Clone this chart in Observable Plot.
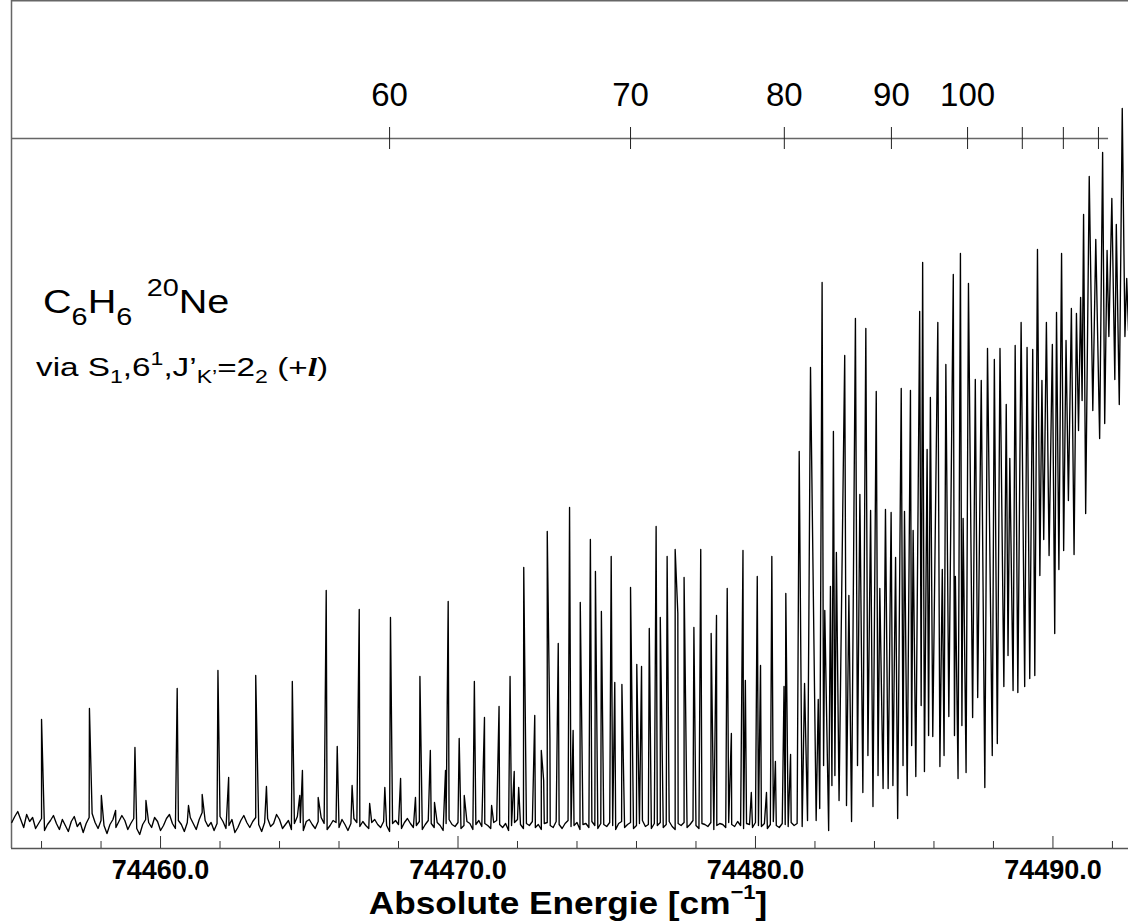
<!DOCTYPE html>
<html>
<head>
<meta charset="utf-8">
<script src="https://cdn.jsdelivr.net/npm/d3@7"></script>
<script src="https://cdn.jsdelivr.net/npm/@observablehq/plot@0.6"></script>
<style>
  html, body { margin: 0; padding: 0; background: #fff; }
  #chart svg { display: block; }
</style>
</head>
<body>
<div id="chart"></div>
<script>
// ---------- data ----------
const energyRange = [74454.99, 74492.54];   // cm^-1
const intensityRange = [-23, 825];          // arb. units

// bottom axis ticks
const majorTicks = [74460, 74470, 74480, 74490];
const minorTicks = [74456, 74458, 74462, 74464, 74466, 74468, 74472, 74474, 74476, 74478,
                    74482, 74484, 74486, 74488, 74492];

// top axis (J assignment) ticks
const jTickEnergy = [74467.70, 74475.80, 74480.97, 74484.57, 74487.13, 74488.97, 74490.35, 74491.53];
const jTickLabel  = ["60", "70", "80", "90", "100", "", "", ""];
const jAxisLevel = 687;
const jAxisEnd = 74491.87;

// line maxima
const peakEnergy = [
74456.00, 74457.61, 74458.01, 74458.49, 74459.14, 74459.51, 74460.56, 74460.94, 74461.40, 74461.93,
74462.29, 74463.20, 74463.56, 74464.43, 74464.68, 74464.77, 74465.30, 74465.57, 74465.94, 74466.44,
74466.68, 74467.03, 74467.54, 74467.73, 74468.07, 74468.57, 74468.72, 74469.07, 74469.21, 74469.58,
74469.67, 74470.04, 74470.21, 74470.55, 74470.89, 74471.13, 74471.38, 74471.75, 74471.89, 74472.04,
74472.21, 74472.58, 74472.80, 74472.88, 74473.00, 74473.09, 74473.37, 74473.75, 74473.87, 74474.11,
74474.45, 74474.62, 74474.82, 74475.15, 74475.27, 74475.51, 74475.80, 74476.01, 74476.17, 74476.43,
74476.66, 74476.80, 74477.03, 74477.30, 74477.39, 74477.60, 74477.93, 74478.16, 74478.51, 74478.69,
74479.05, 74479.19, 74479.58, 74479.66, 74479.86, 74480.06, 74480.17, 74480.37, 74480.55, 74480.67,
74480.96, 74481.02, 74481.18, 74481.47, 74481.65, 74481.85, 74482.11, 74482.24, 74482.33, 74482.52,
74482.62, 74482.72, 74483.00, 74483.14, 74483.36, 74483.51, 74483.71, 74483.87, 74484.06, 74484.18,
74484.37, 74484.56, 74484.71, 74484.90, 74485.01, 74485.21, 74485.30, 74485.52, 74485.62, 74485.77,
74485.88, 74486.13, 74486.28, 74486.40, 74486.65, 74486.72, 74486.89, 74486.98, 74487.16, 74487.39,
74487.59, 74487.80, 74488.03, 74488.22, 74488.43, 74488.55, 74488.73, 74488.93, 74489.13, 74489.32,
74489.48, 74489.63, 74489.78, 74489.98, 74490.12, 74490.29, 74490.44, 74490.62, 74490.79, 74490.93,
74491.03, 74491.22, 74491.44, 74491.67, 74491.82, 74491.98, 74492.13, 74492.33, 74492.48
];
const peakIntensity = [
106, 117, 30, 15, 78, 25, 137, 20, 31, 155,
48, 150, 39, 144, 30, 55, 28, 235, 79, 40,
216, 22, 38, 208, 47, 28, 149, 75, 23, 55,
224, 87, 30, 144, 108, 20, 119, 149, 54, 38,
258, 110, 75, 45, 294, 87, 182, 318, 95, 223,
286, 254, 214, 269, 143, 141, 238, 161, 159, 197,
299, 208, 269, 276, 212, 248, 198, 276, 192, 210,
237, 92, 275, 145, 33, 249, 160, 33, 269, 64,
139, 232, 71, 374, 142, 458, 126, 543, 215, 239,
394, 273, 470, 230, 507, 331, 497, 315, 434, 237,
316, 313, 268, 437, 314, 435, 295, 514, 563, 376,
428, 503, 256, 461, 551, 249, 572, 307, 542, 446,
445, 477, 466, 477, 421, 367, 480, 503, 478, 476,
576, 445, 503, 481, 513, 572, 485, 517, 512, 528,
611, 649, 586, 673, 575, 627, 601, 717, 547
];

// minima between the overlapping lines of the dense band head
const valleyEnergy = [
74481.57, 74481.75, 74482.04, 74482.16, 74482.29, 74482.46, 74482.57, 74482.67, 74482.81,
74483.06, 74483.23, 74483.43, 74483.61, 74483.78, 74483.95,
74484.12, 74484.29, 74484.46, 74484.62, 74484.78, 74484.96,
74485.10, 74485.25, 74485.39, 74485.57, 74485.68, 74485.82, 74485.96,
74486.20, 74486.34, 74486.50, 74486.69, 74486.81, 74486.94,
74487.08, 74487.30, 74487.47, 74487.71, 74487.96,
74488.13, 74488.35, 74488.49, 74488.66, 74488.82,
74489.05, 74489.22, 74489.39, 74489.56, 74489.69, 74489.87,
74490.06, 74490.20, 74490.36, 74490.52, 74490.71, 74490.86, 74490.98,
74491.10, 74491.34, 74491.57, 74491.74, 74491.88,
74492.08, 74492.23, 74492.42, 74492.54
];
const valleyIntensity = [
-1, 5, 5, 17, 60, -5, 40, 50, 25,
20, 4, 60, 33, 70, 19,
50, 37, 37, 40, 7, 60,
30, 80, 49, 120, 54, 90, 89,
59, 70, 109, 90, 47, 100,
53, 108, 128, 38, 70,
82, 139, 170, 135, 133,
139, 147, 150, 250, 286, 270,
192, 256, 275, 325, 271, 395, 425,
312, 415, 387, 402, 489,
446, 421, 489, 495
];

// baseline noise, sampled every 0.1 cm^-1 from 74455.0 up to 74481.4
const noiseStart = 74455.0;
const noiseStep = 0.1;
const baselineNoise = [
3, 9, 14, 6, -2, 11, 4, 8, -3, 2, 7, -5, 1, 5, 10, 2, -4, 6, 0, -6,
4, 9, -1, 3, -7, 2, 8, 12, 3, -3, 5, 0, -8, 1, 6, -2, 4, 10, 5, -4,
2, 7, -3, -9, 1, 6, 3, -2, 8, 4, -5, 0, 7, 11, 2, -3, 5, 1, -6, 3,
8, 2, -4, 6, 13, 5, -1, 3, -5, 2, 9, 4, -3, 0, 6, -7, -2, 5, 10, 3,
-2, 4, 8, 1, -6, 3, 7, -1, 2, 11, 6, -3, 1, 5, -4, 2, 9, 3, -5, 4,
6, 1, -3, 4, 8, 2, -4, 0, 5, 3, -2, 6, 1, -5, 2, 7, 3, -1, 4, 0,
-3, 3, 6, 1, -2, 4, 0, -6, 2, 5, 1, -3, 3, 7, 2, -2, 0, 4, -4, 1,
5, 2, -2, 3, 0, -5, 2, 6, 1, -1, 3, -3, 0, 4, 2, -4, 1, 5, -1, 2,
0, -3, 3, 5, 1, -2, 2, -5, 0, 3, 6, 1, -3, 2, 0, 4, -2, 1, -4, 2,
3, 0, -2, 4, 1, -3, 2, 5, -1, 0, 3, -4, 1, 2, -2, 4, 0, -3, 2, 1,
-1, 3, 0, -4, 2, 4, -2, 1, 3, -3, 0, 2, 5, -1, 1, -3, 2, 0, 3, -2,
1, 4, -1, -4, 2, 0, 3, -2, 1, 5, 0, -3, 2, 1, -1, 3, -4, 0, 2, 1,
-2, 3, 1, -1, 4, 0, -3, 2, 1, -2, 3, 0, -1, 2, -3, 1, 4, 0, -2, 2,
1, -1, 3, 0, 2
];

// ---------- assemble the trace ----------
const trace = [];
baselineNoise.forEach((v, i) => trace.push({e: noiseStart + i * noiseStep, v}));
peakEnergy.forEach((e, i) => trace.push({e, v: peakIntensity[i]}));
valleyEnergy.forEach((e, i) => trace.push({e, v: valleyIntensity[i]}));
trace.sort((a, b) => a.e - b.e);

const FONT = "'Liberation Sans', Arial, Helvetica, sans-serif";
const lo = intensityRange[0], hi = intensityRange[1];

const chart = Plot.plot({
  width: 1128,
  height: 922,
  marginLeft: 11,
  marginRight: 0,
  marginTop: 0,
  marginBottom: 74,
  style: {fontFamily: FONT, background: "#fff", color: "#000", overflow: "visible"},
  x: {domain: energyRange, axis: null},
  y: {domain: intensityRange, axis: null},
  marks: [
    // frame
    Plot.ruleX([energyRange[0]], {stroke: "#666", strokeWidth: 1.5}),
    Plot.ruleY([hi], {stroke: "#666", strokeWidth: 2}),
    // bottom axis
    Plot.ruleY([lo], {stroke: "#555", strokeWidth: 1.5}),
    Plot.ruleX(minorTicks, {y1: lo, y2: lo + 7, stroke: "#333"}),
    Plot.ruleX(majorTicks, {y1: lo, y2: lo + 12, stroke: "#333"}),
    Plot.axisX(majorTicks, {
      anchor: "bottom", tickSize: 0, tickPadding: 11,
      tickFormat: d => d.toFixed(1), fontSize: 27, fontWeight: "bold", label: null
    }),
    // J axis inside the frame
    Plot.ruleY([jAxisLevel], {x1: energyRange[0], x2: jAxisEnd, stroke: "#666", strokeWidth: 1.3}),
    Plot.ruleX(jTickEnergy, {y1: jAxisLevel - 11, y2: jAxisLevel + 11, stroke: "#222"}),
    Plot.text(jTickEnergy, {
      x: d => d, y: jAxisLevel + 33, text: (d, i) => jTickLabel[i],
      fontSize: 33, lineAnchor: "bottom", fill: "#000"
    }),
    // spectrum
    Plot.line(trace, {x: "e", y: "v", stroke: "#000", strokeWidth: 1.35, curve: "linear"})
  ]
});

document.getElementById("chart").appendChild(chart);

const svg = d3.select(chart);
svg.selectAll("text").attr("font-family", FONT);

// axis title
const title = svg.append("text")
  .attr("transform", "translate(568,914) scale(1.1,1)")
  .attr("text-anchor", "middle")
  .attr("font-family", FONT).attr("font-size", 32).attr("font-weight", "bold");
title.append("tspan").text("Absolute Energie [cm");
title.append("tspan").attr("dy", -15).attr("font-size", 20).text("\u22121");
title.append("tspan").attr("dy", 15).text("]");

// species label
const f = svg.append("text")
  .attr("transform", "translate(43,313) scale(1.2,1)")
  .attr("text-anchor", "start")
  .attr("font-family", FONT).attr("font-size", 33);
f.append("tspan").text("C");
f.append("tspan").attr("font-size", 24).attr("dy", 12).text("6");
f.append("tspan").attr("dy", -12).text("H");
f.append("tspan").attr("font-size", 24).attr("dy", 12).text("6");
f.append("tspan").attr("font-size", 24).attr("dx", 12).attr("dy", -29).text("20");
f.append("tspan").attr("dy", 17).text("Ne");

// excitation label
const v = svg.append("text")
  .attr("transform", "translate(36,376) scale(1.28,1)")
  .attr("text-anchor", "start")
  .attr("font-family", FONT).attr("font-size", 26);
v.append("tspan").text("via S");
v.append("tspan").attr("font-size", 18).attr("dy", 7).text("1");
v.append("tspan").attr("dy", -7).text(",6");
v.append("tspan").attr("font-size", 18).attr("dy", -11).text("1");
v.append("tspan").attr("dy", 11).text(",J\u2019");
v.append("tspan").attr("font-size", 18).attr("dy", 7).text("K\u2019");
v.append("tspan").attr("dy", -7).text("=2");
v.append("tspan").attr("font-size", 18).attr("dy", 7).text("2");
v.append("tspan").attr("dy", -7).text(" (+");
v.append("tspan").attr("font-family", "'Liberation Serif', 'Times New Roman', serif")
  .attr("font-style", "italic").attr("font-weight", "bold").text("l");
v.append("tspan").text(")");
</script>
</body>
</html>
